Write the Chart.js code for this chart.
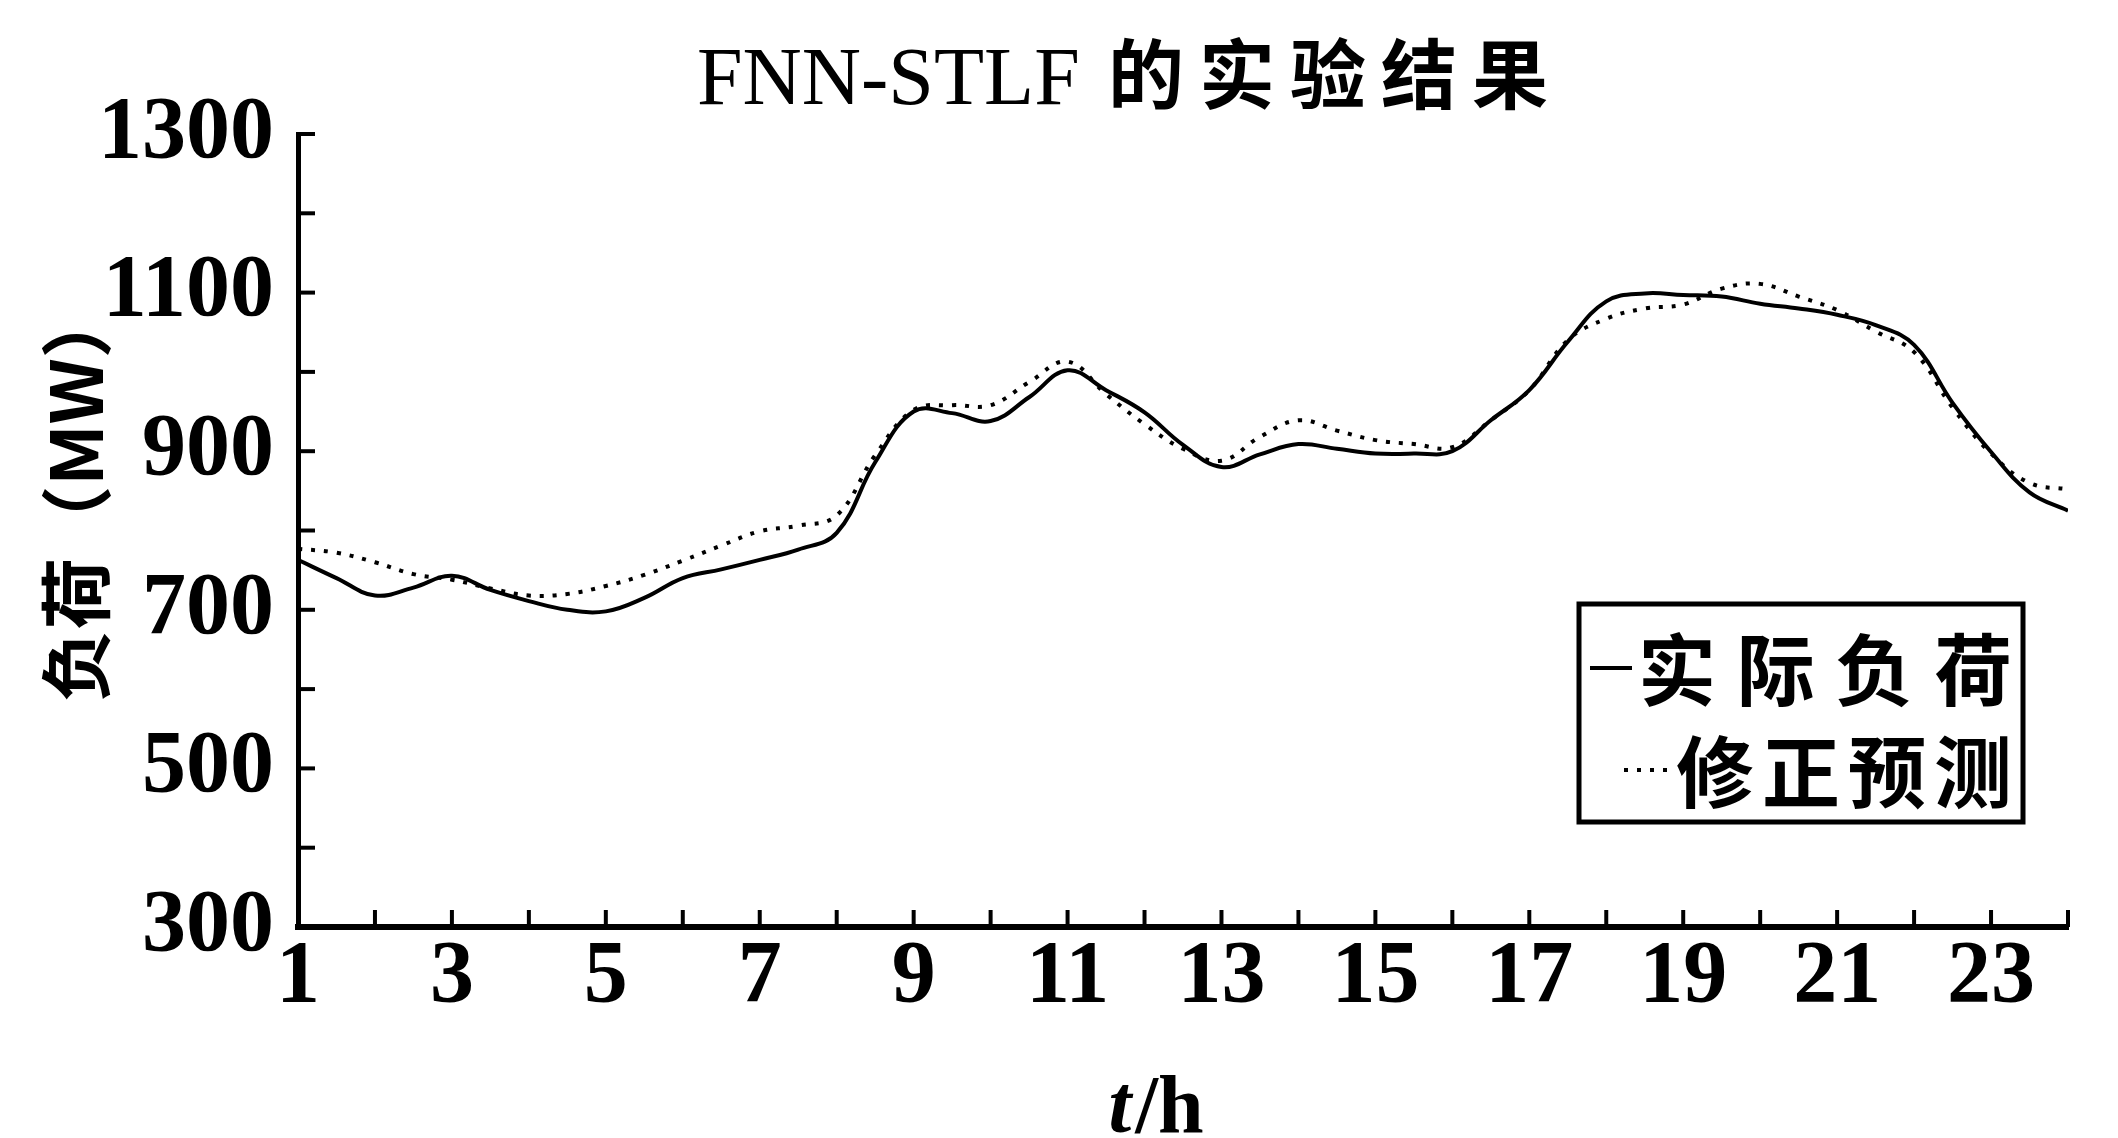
<!DOCTYPE html>
<html lang="zh">
<head>
<meta charset="utf-8">
<title>FNN-STLF 的实验结果</title>
<script src="https://cdn.jsdelivr.net/npm/chart.js"></script>
<style>
  body { margin: 0; background: #fff; }
  #chart { display: block; }
</style>
</head>
<body>
<canvas id="chart" width="2118" height="1138"></canvas>

<script>
// time axis (h), half-hour steps
var hours = [1, 1.5, 2, 2.5, 3, 3.5, 4, 4.5, 5, 5.5, 6, 6.5, 7, 7.5, 8, 8.5, 9, 9.5, 10, 10.5, 11, 11.5, 12,
             12.5, 13, 13.5, 14, 14.5, 15, 15.5, 16, 16.5, 17, 17.5, 18, 18.5, 19, 19.5, 20, 20.5, 21, 21.5,
             22, 22.5, 23, 23.5, 24];
// 实际负荷 (MW)
var actualLoad = [763, 740, 718, 728, 743, 725, 711, 700, 698, 715, 740, 751, 763, 776, 797, 886, 950, 948, 938,
                  968, 1002, 977, 949, 908, 880, 896, 909, 903, 897, 897, 900, 939, 977, 1038, 1089, 1099, 1097,
                  1095, 1086, 1080, 1072, 1059, 1034, 961, 899, 848, 825];
// 修正预测 (MW)
var correctedForecast = [777, 772, 760, 745, 738, 727, 718, 720, 730, 744, 762, 781, 799, 806, 819, 895, 952, 958,
                         958, 987, 1013, 972, 934, 903, 888, 918, 939, 926, 914, 909, 905, 939, 977, 1040, 1067,
                         1080, 1085, 1105, 1111, 1095, 1078, 1051, 1025, 955, 897, 860, 852];
var seriesNames = ["实际负荷", "修正预测"];
var yTickLabels = [300, 500, 700, 900, 1100, 1300];
var xTickLabels = [1, 3, 5, 7, 9, 11, 13, 15, 17, 19, 21, 23];

var serif = '"Liberation Serif", "Times New Roman", serif';
var cjk = '"Noto Sans CJK SC", sans-serif';

function points(vals) {
    return hours.map(function (h, i) { return { x: h, y: vals[i] }; });
}

// ticks pointing into the plot, titles and boxed legend
var decor = {
    id: "decor",
    afterDraw: function (chart) {
        var ctx = chart.ctx;
        var a = chart.chartArea;
        var xs = chart.scales.x, ys = chart.scales.y;
        ctx.save();
        ctx.strokeStyle = "#000";
        ctx.fillStyle = "#000";
        ctx.lineWidth = 4;
        ys.ticks.forEach(function (t) {
            var py = ys.getPixelForValue(t.value);
            ctx.beginPath(); ctx.moveTo(a.left, py); ctx.lineTo(a.left + 17, py); ctx.stroke();
        });
        xs.ticks.forEach(function (t) {
            var px = xs.getPixelForValue(t.value);
            ctx.beginPath(); ctx.moveTo(px, a.bottom); ctx.lineTo(px, a.bottom - 17); ctx.stroke();
        });

        // title
        ctx.textBaseline = "alphabetic";
        ctx.textAlign = "left";
        ctx.font = "82px " + serif;
        ctx.fillText("FNN-STLF", 697, 104);
        ctx.font = "bold 76px " + cjk;
        ctx.textAlign = "center";
        ctx.textBaseline = "middle";
        var tt = "的实验结果";
        for (var i = 0; i < tt.length; i++) {
            ctx.fillText(tt[i], 1146 + i * (1510 - 1146) / (tt.length - 1), 74);
        }

        // y axis title
        ctx.save();
        ctx.translate(76, 494);
        ctx.rotate(-Math.PI / 2);
        ctx.font = "bold 72px " + cjk;
        ctx.fillText("负荷（MW）", 0, 0);
        ctx.restore();

        // x axis title t/h
        ctx.textBaseline = "alphabetic";
        ctx.textAlign = "left";
        ctx.font = "italic bold 82px " + serif;
        var wt = ctx.measureText("t").width;
        ctx.font = "bold 82px " + serif;
        var wh = ctx.measureText("/h").width;
        var x0 = 1154 - (wt + wh) / 2;
        ctx.font = "italic bold 82px " + serif;
        ctx.fillText("t", x0, 1132);
        ctx.font = "bold 82px " + serif;
        ctx.fillText("/h", x0 + wt + 4, 1132);

        // legend box
        ctx.lineWidth = 5;
        ctx.strokeRect(1579, 604, 444, 218);
        var rows = [
            { y: 668, x1: 1590, x2: 1632, start: 1638, end: 2012 },
            { y: 770, x1: 1624, x2: 1672, start: 1676, end: 2012 }
        ];
        chart.data.datasets.forEach(function (ds, k) {
            var r = rows[k];
            ctx.lineWidth = ds.borderWidth;
            ctx.setLineDash(ds.borderDash || []);
            ctx.beginPath(); ctx.moveTo(r.x1, r.y); ctx.lineTo(r.x2, r.y); ctx.stroke();
            ctx.setLineDash([]);
            ctx.font = "bold 78px " + cjk;
            ctx.textAlign = "center";
            ctx.textBaseline = "middle";
            var s = ds.label;
            var half = 39;
            for (var j = 0; j < s.length; j++) {
                ctx.fillText(s[j], r.start + half + j * (r.end - r.start - 2 * half) / (s.length - 1), r.y + 2);
            }
        });
        ctx.restore();
    }
};

new Chart(document.getElementById("chart"), {
    type: "line",
    data: {
        datasets: [
            {
                label: seriesNames[0],
                data: points(actualLoad),
                borderColor: "#000",
                borderWidth: 4,
                pointRadius: 0,
                tension: 0.4,
                fill: false
            },
            {
                label: seriesNames[1],
                data: points(correctedForecast),
                borderColor: "#000",
                borderWidth: 4,
                borderDash: [4, 9],
                pointRadius: 0,
                tension: 0.4,
                fill: false
            }
        ]
    },
    options: {
        responsive: false,
        devicePixelRatio: 1,
        animation: false,
        layout: { padding: { top: 134, right: 50, bottom: 0, left: 0 } },
        plugins: {
            legend: { display: false },
            title: { display: false },
            tooltip: { enabled: false }
        },
        scales: {
            x: {
                type: "linear",
                min: 1,
                max: 24,
                afterFit: function (s) { s.height = 1138 - 927; },
                grid: { display: false, drawTicks: false },
                border: { display: true, color: "#000", width: 6 },
                ticks: {
                    stepSize: 1,
                    autoSkip: false,
                    maxRotation: 0,
                    padding: -2,
                    color: "#000",
                    font: { family: serif, size: 88, weight: "bold" },
                    callback: function (v) { return xTickLabels.indexOf(v) >= 0 ? String(v) : ""; }
                }
            },
            y: {
                min: 300,
                max: 1300,
                afterFit: function (s) { s.width = 298; },
                grid: { display: false, drawTicks: false },
                border: { display: true, color: "#000", width: 5 },
                ticks: {
                    stepSize: 100,
                    autoSkip: false,
                    padding: 24,
                    color: "#000",
                    font: { family: serif, size: 88, weight: "bold" },
                    callback: function (v) { return yTickLabels.indexOf(v) >= 0 ? String(v) : ""; }
                }
            }
        }
    },
    plugins: [decor]
});
</script>
</body>
</html>
